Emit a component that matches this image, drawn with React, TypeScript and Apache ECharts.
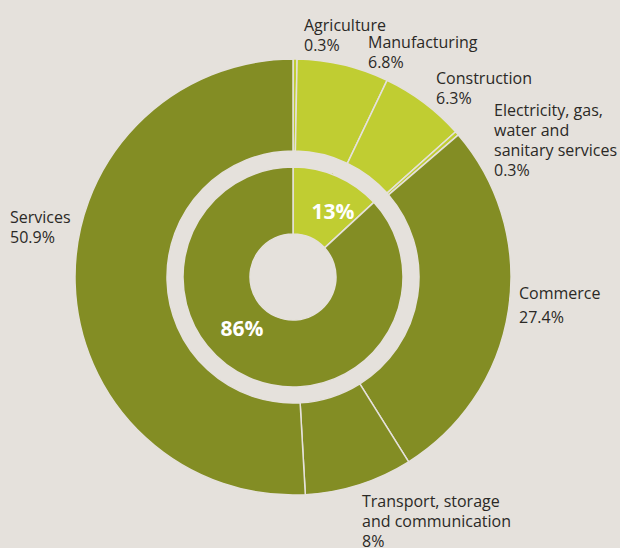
import React, { useEffect, useRef } from "react";
import * as echarts from "echarts";

const outerNames = [
  "Agriculture",
  "Manufacturing",
  "Construction",
  "Electricity, gas,\nwater and\nsanitary services",
  "Commerce",
  "Transport, storage\nand communication",
  "Services",
];
const outerValues = [0.3, 6.8, 6.3, 0.3, 27.4, 8, 50.9];
const outerLabels = ["0.3%", "6.8%", "6.3%", "0.3%", "27.4%", "8%", "50.9%"];
const outerGroup = [0, 0, 0, 0, 1, 1, 1];

const innerNames = ["Industry", "Services sector"];
const innerValues = [13, 86];
const innerLabels = ["13%", "86%"];

const BG = "#e5e1dc";
const DARK = "#838d24";
const LIGHT = "#c0cd32";
const groupColors = [LIGHT, DARK];

// label anchor positions (top-left of text block) and line heights
const outerLabelPos: [number, number][] = [
  [304, 15],
  [368, 32],
  [436, 68],
  [494, 100],
  [519, 281],
  [362, 491],
  [10, 207],
];
const outerLineHeights = [20, 20, 20, 20, 24, 20, 20];
const innerLabelPos: [number, number][] = [
  [333, 211],
  [242, 328],
];

export default function App() {
  const ref = useRef<HTMLDivElement>(null);
  useEffect(() => {
    document.body.style.margin = "0";
    const chart = echarts.init(ref.current!, null, { renderer: "svg" });
    chart.setOption({
      animation: false,
      backgroundColor: BG,
      series: [
        {
          type: "pie",
          name: "inner",
          center: [293, 277],
          radius: [43, 110],
          startAngle: 90,
          clockwise: true,
          avoidLabelOverlap: false,
          itemStyle: { borderColor: BG, borderWidth: 1.5 },
          label: {
            show: true,
            position: "inside",
            color: "#ffffff",
            fontFamily: "Open Sans",
            fontWeight: "bold",
            fontSize: 21,
            formatter: (p: any) => innerLabels[p.dataIndex],
          },
          labelLayout: (p: any) => ({
            x: innerLabelPos[p.dataIndex][0],
            y: innerLabelPos[p.dataIndex][1],
            align: "center",
            verticalAlign: "middle",
          }),
          emphasis: { disabled: true },
          data: innerValues.map((v, i) => ({
            name: innerNames[i],
            value: v,
            itemStyle: { color: groupColors[i] },
          })),
        },
        {
          type: "pie",
          name: "outer",
          center: [293, 277],
          radius: [126, 218],
          startAngle: 90,
          clockwise: true,
          avoidLabelOverlap: false,
          itemStyle: { borderColor: BG, borderWidth: 1.5 },
          label: {
            show: true,
            position: "outside",
            color: "#2b2926",
            fontFamily: "Open Sans",
            fontSize: 16,
            lineHeight: 20,
            align: "left",
            formatter: (p: any) => outerNames[p.dataIndex] + "\n" + outerLabels[p.dataIndex],
          },
          labelLine: { show: false },
          labelLayout: (p: any) => ({
            x: outerLabelPos[p.dataIndex][0],
            y: outerLabelPos[p.dataIndex][1],
            align: "left",
            verticalAlign: "top",
          }),
          emphasis: { disabled: true },
          data: outerValues.map((v, i) => ({
            name: outerNames[i],
            value: v,
            itemStyle: { color: groupColors[outerGroup[i]] },
            label: { lineHeight: outerLineHeights[i] },
          })),
        },
      ],
    });
    return () => chart.dispose();
  }, []);
  return <div ref={ref} style={{ width: 620, height: 548, background: BG }} />;
}
